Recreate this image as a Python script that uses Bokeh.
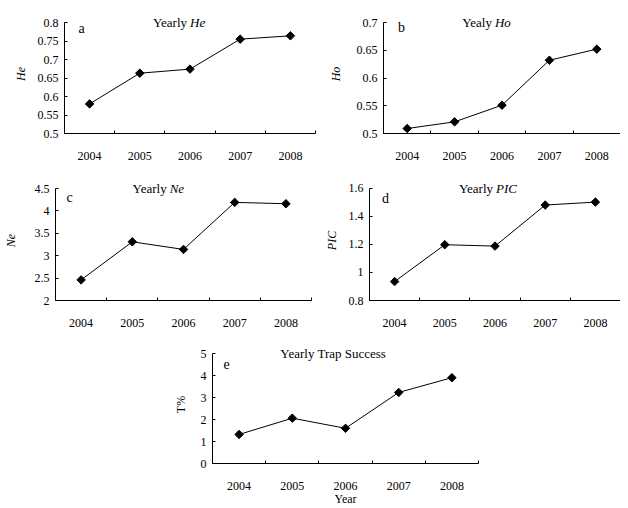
import math
from bokeh.plotting import figure
from bokeh.layouts import column, row
from bokeh.models import FixedTicker, PrintfTickFormatter, Label, Range1d, Spacer
from bokeh.embed import file_html
from bokeh.resources import INLINE

# ---- data ----
years = ["2004", "2005", "2006", "2007", "2008"]
he = [0.58, 0.663, 0.674, 0.755, 0.764]
ho = [0.509, 0.521, 0.551, 0.632, 0.652]
ne = [2.46, 3.31, 3.14, 4.19, 4.16]
pic = [0.935, 1.198, 1.188, 1.481, 1.502]
trap = [1.32, 2.06, 1.6, 3.23, 3.9]

he_ticks = [0.5, 0.55, 0.6, 0.65, 0.7, 0.75, 0.8]
ho_ticks = [0.5, 0.55, 0.6, 0.65, 0.7]
ne_ticks = [2, 2.5, 3, 3.5, 4, 4.5]
pic_ticks = [0.8, 1, 1.2, 1.4, 1.6]
trap_ticks = [0, 1, 2, 3, 4, 5]

FONT = "Liberation Serif"
PAD = 8  # px of frame above the axis top, so the in-plot titles are not clipped


def panel(values, yticks, ylabel, ylabel_style, letter, t_plain, t_ital, t_x,
          l_dx, l_dy, width, axis_px, bl, br, top, bb, y_standoff,
          xlabel=None, x_standoff=0):
    n = len(years)
    xs = list(range(n))
    ylo, yhi = yticks[0], yticks[-1]
    extra = PAD * (yhi - ylo) / axis_px
    p = figure(width=width, height=top + axis_px + bb, output_backend="svg",
               toolbar_location=None, title=None,
               x_range=Range1d(-0.5, n - 0.5),
               y_range=Range1d(ylo, yhi + extra),
               min_border_left=bl, min_border_right=br,
               min_border_top=top - PAD, min_border_bottom=bb)
    p.outline_line_color = None
    p.grid.visible = False
    p.background_fill_color = "white"
    p.border_fill_color = "white"

    p.line(xs, values, line_color="black", line_width=1)
    p.scatter(xs, values, marker="square", angle=math.pi / 4, size=6,
              fill_color="black", line_color="black")

    # x axis: labels at category centres, ticks at category boundaries
    xa = p.xaxis[0]
    xa.ticker = FixedTicker(ticks=xs, minor_ticks=[i - 0.5 for i in range(n + 1)])
    xa.major_label_overrides = {i: y for i, y in enumerate(years)}
    xa.major_tick_in = 0
    xa.major_tick_out = 0
    xa.minor_tick_in = 3
    xa.minor_tick_out = 0
    xa.minor_tick_line_color = "black"
    xa.axis_line_color = "black"
    xa.major_label_text_font = FONT
    xa.major_label_text_font_size = "12px"
    xa.major_label_text_color = "black"
    xa.major_label_standoff = 18
    if xlabel:
        xa.axis_label = xlabel
        xa.axis_label_text_font = FONT
        xa.axis_label_text_font_size = "12px"
        xa.axis_label_text_font_style = "normal"
        xa.axis_label_text_color = "black"
        xa.axis_label_standoff = x_standoff

    ya = p.yaxis[0]
    ya.ticker = FixedTicker(ticks=yticks)
    ya.formatter = PrintfTickFormatter(format="%g")
    ya.bounds = (ylo, yhi)
    ya.major_tick_in = 3
    ya.major_tick_out = 0
    ya.minor_tick_line_color = None
    ya.major_tick_line_color = "black"
    ya.axis_line_color = "black"
    ya.major_label_text_font = FONT
    ya.major_label_text_font_size = "12px"
    ya.major_label_text_color = "black"
    ya.major_label_standoff = 6
    ya.axis_label = ylabel
    ya.axis_label_text_font = FONT
    ya.axis_label_text_font_size = "12px"
    ya.axis_label_text_font_style = ylabel_style
    ya.axis_label_text_color = "black"
    ya.axis_label_standoff = y_standoff

    if t_ital:
        p.add_layout(Label(x=t_x, y=yhi, text=t_plain, text_align="right",
                           text_baseline="middle", x_offset=-1.5,
                           text_font=FONT, text_font_size="13px",
                           text_color="black"))
        p.add_layout(Label(x=t_x, y=yhi, text=t_ital, text_align="left",
                           text_baseline="middle", x_offset=1.5,
                           text_font=FONT, text_font_size="13px",
                           text_font_style="italic", text_color="black"))
    else:
        p.add_layout(Label(x=t_x, y=yhi, text=t_plain, text_align="center",
                           text_baseline="middle",
                           text_font=FONT, text_font_size="13px",
                           text_color="black"))
    p.add_layout(Label(x=-0.5, y=yhi, text=letter, text_align="center",
                       text_baseline="middle", x_offset=l_dx, y_offset=l_dy,
                       text_font=FONT, text_font_size="14px",
                       text_color="black"))
    return p


pa = panel(he, he_ticks, "He", "italic", "a", "Yearly", "He", 1.97,
           17, -5.5, 318, 111, 64, 3, 22, 38, 7)
pb = panel(ho, ho_ticks, "Ho", "italic", "b", "Yealy", "Ho", 1.82,
           18, -5, 302, 111, 65, 0, 22, 38, 11)
pc = panel(ne, ne_ticks, "Ne", "italic", "c", "Yearly", "Ne", 1.7,
           14, -9, 318, 112, 54, 7, 17, 45, 14)
pd = panel(pic, pic_ticks, "PIC", "italic", "d", "Yearly", "PIC", 1.99,
           16, -10, 302, 114, 51, 0, 15, 45, 7)
pe = panel(trap, trap_ticks, "T%", "normal", "e", "Yearly Trap Success", None, 1.77,
           14, -10, 338, 110, 62, 10, 8, 45, 10, xlabel="Year", x_standoff=-1)

layout = column(row(pa, pb), row(pc, pd), row(Spacer(width=150, height=163), pe))

open("out.html", "w").write(file_html(layout, INLINE))
